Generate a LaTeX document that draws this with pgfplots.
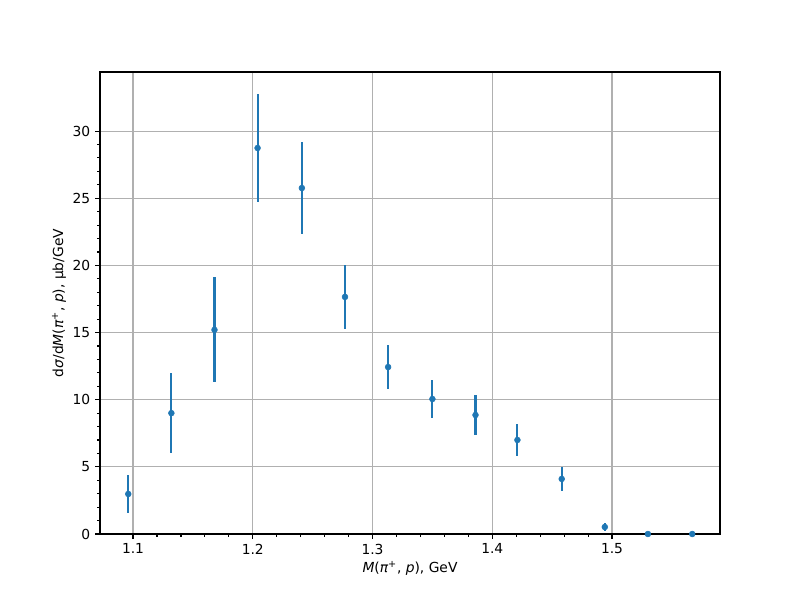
\documentclass[border=0pt]{standalone}
\usepackage{fontspec}
\setmainfont{DejaVu Sans}
\usepackage{pgfplots}
\pgfplotsset{compat=1.18}
\definecolor{mplblue}{HTML}{1F77B4}
\definecolor{mplgrid}{HTML}{B0B0B0}
\begin{document}
\fontsize{10}{12}\selectfont
\begin{tikzpicture}[x=1bp,y=1bp]
\path (-72,-47.52) rectangle (446.4+57.6,332.64+51.84);
\begin{axis}[
  at={(0,0)}, anchor=south west,
  scale only axis, width=446.4bp, height=332.64bp,
  xmin=1.0724, xmax=1.5902, ymin=0, ymax=34.4,
  xtick={1.1,1.2,1.3,1.4,1.5},
  ytick={0,5,10,15,20,25,30},
  minor x tick num=4, minor y tick num=4,
  tick align=outside, tick pos=left,
  major tick length=3.5bp, minor tick length=2bp,
  every tick/.style={black, line width=0.8bp},
  axis line style={line width=0.8bp},
  grid=major,
  major grid style={mplgrid, line width=0.8bp},
  /pgf/number format/assume math mode=true,
  xticklabel style={/pgf/number format/fixed, /pgf/number format/precision=1, font=\fontsize{10}{12}\selectfont},
  yticklabel style={font=\fontsize{10}{12}\selectfont},
  scaled ticks=false,
  xlabel={\itshape M\upshape(\itshape π\upshape\textsuperscript{+}, \itshape p\upshape), GeV},
  ylabel={d\itshape σ\upshape/d\itshape M\upshape(\itshape π\upshape\textsuperscript{+}, \itshape p\upshape), μb/GeV},
  label style={font=\fontsize{10}{12}\selectfont},
  xlabel style={yshift=2bp},
  ylabel style={yshift=-2bp},
]
\addplot[mplblue, only marks, mark=*, mark size=2.1bp,
  mark options={draw=mplblue, fill=mplblue},
  error bars/.cd, y dir=both, y explicit,
  error mark=none, error bar style={line width=1.5bp, mplblue}]
  table[x=x, y=y, y error=e] {
x y e
1.096 2.98 1.4
1.132 9.0 3.0
1.168 15.2 3.9
1.204 28.74 4.0
1.241 25.76 3.4
1.277 17.65 2.35
1.313 12.43 1.65
1.350 10.05 1.4
1.386 8.86 1.5
1.421 7.0 1.2
1.458 4.1 0.9
1.494 0.52 0.3
1.530 0.0 0.0
1.567 0.0 0.0
};
\end{axis}
\end{tikzpicture}
\end{document}
